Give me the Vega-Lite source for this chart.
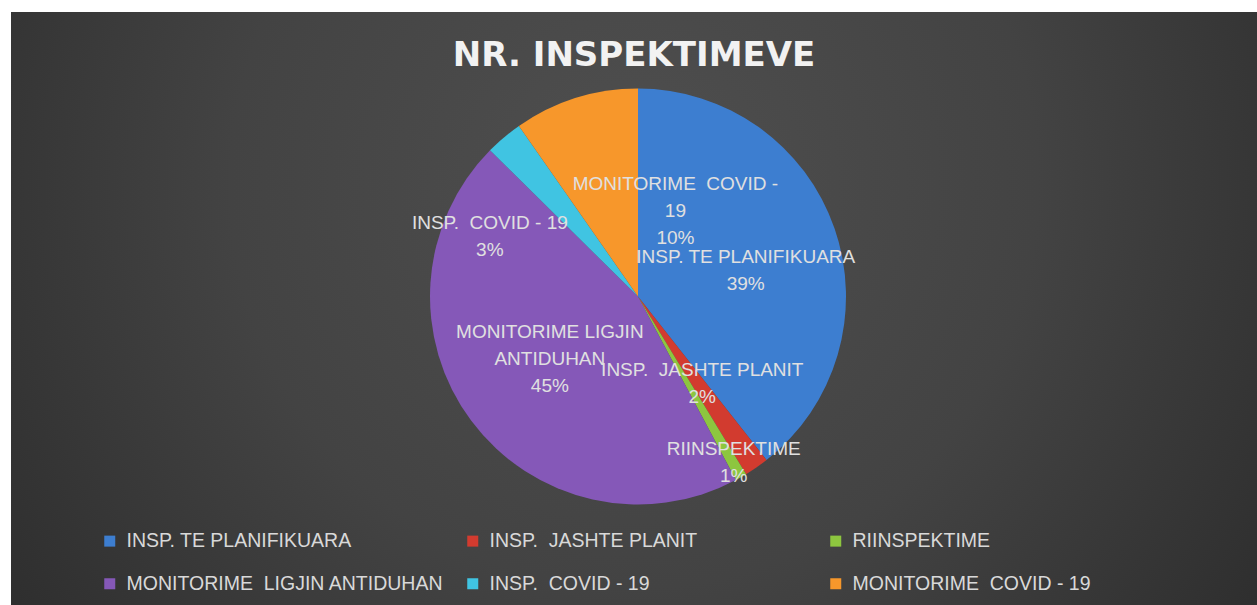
{
  "$schema": "https://vega.github.io/schema/vega-lite/v6.json",
  "width": 1257,
  "height": 605,
  "autosize": {"type": "fit", "contains": "padding"},
  "padding": {"left": 11, "top": 12, "right": 0, "bottom": 0},
  "background": "#ffffff",
  "title": {
    "text": "NR. INSPEKTIMEVE",
    "font": "DejaVu Sans",
    "fontWeight": "bold",
    "fontSize": 34,
    "color": "#f2f2f2",
    "anchor": "middle",
    "frame": "group",
    "offset": -61
  },
  "data": {
    "values": [
      {"cat": "INSP. TE PLANIFIKUARA", "label": "INSP. TE PLANIFIKUARA", "value": 394, "ord": 1},
      {"cat": "INSP.\u00a0 JASHTE PLANIT", "label": "INSP.\u00a0 JASHTE PLANIT", "value": 19, "ord": 2},
      {"cat": "RIINSPEKTIME", "label": "RIINSPEKTIME", "value": 9, "ord": 3},
      {"cat": "MONITORIME\u00a0 LIGJIN ANTIDUHAN", "label": "MONITORIME LIGJIN\nANTIDUHAN", "value": 452, "ord": 4},
      {"cat": "INSP.\u00a0 COVID - 19", "label": "INSP.\u00a0 COVID - 19", "value": 29, "ord": 5},
      {"cat": "MONITORIME\u00a0 COVID - 19", "label": "MONITORIME\u00a0 COVID -\n19", "value": 97, "ord": 6}
    ]
  },
  "transform": [
    {"joinaggregate": [{"op": "sum", "field": "value", "as": "total"}]},
    {"calculate": "datum.label + '\\n' + format(datum.value / datum.total, '.0%')", "as": "lbl"}
  ],
  "layer": [
    {
      "data": {"values": [{"bg": 1}]},
      "mark": {
        "type": "rect",
        "fill": {
          "gradient": "radial",
          "x1": 0.5, "y1": 0.4, "r1": 0,
          "x2": 0.5, "y2": 0.4, "r2": 0.72,
          "stops": [
            {"offset": 0, "color": "#4f4f4f"},
            {"offset": 0.45, "color": "#434343"},
            {"offset": 1, "color": "#262626"}
          ]
        }
      },
      "encoding": {}
    },
    {
      "mark": {"type": "arc", "outerRadius": 208, "xOffset": 4, "yOffset": -12},
      "encoding": {
        "theta": {"field": "value", "type": "quantitative", "stack": true},
        "order": {"field": "ord", "type": "quantitative"},
        "color": {
          "field": "cat",
          "type": "nominal",
          "sort": null,
          "scale": {
            "domain": ["INSP. TE PLANIFIKUARA", "INSP.\u00a0 JASHTE PLANIT", "RIINSPEKTIME", "MONITORIME\u00a0 LIGJIN ANTIDUHAN", "INSP.\u00a0 COVID - 19", "MONITORIME\u00a0 COVID - 19"],
            "range": ["#3d7ed0", "#d23b2f", "#8dc63f", "#8558b8", "#40c4e2", "#f7972b"]
          },
          "legend": {
            "orient": "none",
            "legendX": 89,
            "legendY": 519,
            "direction": "horizontal",
            "columns": 3,
            "gridAlign": "all",
            "title": null,
            "padding": 0,
            "symbolType": "square",
            "symbolSize": 121,
            "symbolStrokeWidth": 0,
            "labelFont": "Liberation Sans",
            "labelFontSize": 19.5,
            "labelColor": "#d9d9d9",
            "labelOffset": 7,
            "labelLimit": 500,
            "columnPadding": 19,
            "rowPadding": 22
          }
        }
      }
    },
    {
      "mark": {"type": "text", "radius": 114, "dy": -2, "xOffset": 4, "yOffset": -12, "font": "Liberation Sans", "fontSize": 19, "lineHeight": 27, "lineBreak": "\n", "fill": "#e0e0e0", "align": "center", "baseline": "middle"},
      "encoding": {
        "theta": {"field": "value", "type": "quantitative", "stack": true},
        "order": {"field": "ord", "type": "quantitative"},
        "detail": {"field": "cat", "type": "nominal"},
        "text": {"condition": {"test": "datum.ord == 1", "field": "lbl"}, "value": ""}
      }
    },
    {
      "mark": {"type": "text", "radius": 90, "dx": 13, "xOffset": 4, "yOffset": -12, "font": "Liberation Sans", "fontSize": 19, "lineHeight": 27, "lineBreak": "\n", "fill": "#e0e0e0", "align": "center", "baseline": "middle"},
      "encoding": {
        "theta": {"field": "value", "type": "quantitative", "stack": true},
        "order": {"field": "ord", "type": "quantitative"},
        "detail": {"field": "cat", "type": "nominal"},
        "text": {"condition": {"test": "datum.ord == 2", "field": "lbl"}, "value": ""}
      }
    },
    {
      "mark": {"type": "text", "radius": 175, "dx": 9, "xOffset": 4, "yOffset": -12, "font": "Liberation Sans", "fontSize": 19, "lineHeight": 27, "lineBreak": "\n", "fill": "#e0e0e0", "align": "center", "baseline": "middle"},
      "encoding": {
        "theta": {"field": "value", "type": "quantitative", "stack": true},
        "order": {"field": "ord", "type": "quantitative"},
        "detail": {"field": "cat", "type": "nominal"},
        "text": {"condition": {"test": "datum.ord == 3", "field": "lbl"}, "value": ""}
      }
    },
    {
      "mark": {"type": "text", "radius": 95, "dx": -12, "dy": -21, "xOffset": 4, "yOffset": -12, "font": "Liberation Sans", "fontSize": 19, "lineHeight": 27, "lineBreak": "\n", "fill": "#e0e0e0", "align": "center", "baseline": "middle"},
      "encoding": {
        "theta": {"field": "value", "type": "quantitative", "stack": true},
        "order": {"field": "ord", "type": "quantitative"},
        "detail": {"field": "cat", "type": "nominal"},
        "text": {"condition": {"test": "datum.ord == 4", "field": "lbl"}, "value": ""}
      }
    },
    {
      "mark": {"type": "text", "radius": 160, "dx": -45, "dy": 49, "xOffset": 4, "yOffset": -12, "font": "Liberation Sans", "fontSize": 19, "lineHeight": 27, "lineBreak": "\n", "fill": "#e0e0e0", "align": "center", "baseline": "middle"},
      "encoding": {
        "theta": {"field": "value", "type": "quantitative", "stack": true},
        "order": {"field": "ord", "type": "quantitative"},
        "detail": {"field": "cat", "type": "nominal"},
        "text": {"condition": {"test": "datum.ord == 5", "field": "lbl"}, "value": ""}
      }
    },
    {
      "mark": {"type": "text", "radius": 92, "dx": 65, "dy": -25, "xOffset": 4, "yOffset": -12, "font": "Liberation Sans", "fontSize": 19, "lineHeight": 27, "lineBreak": "\n", "fill": "#e0e0e0", "align": "center", "baseline": "middle"},
      "encoding": {
        "theta": {"field": "value", "type": "quantitative", "stack": true},
        "order": {"field": "ord", "type": "quantitative"},
        "detail": {"field": "cat", "type": "nominal"},
        "text": {"condition": {"test": "datum.ord == 6", "field": "lbl"}, "value": ""}
      }
    }
  ],
  "config": {"view": {"stroke": null}}
}
